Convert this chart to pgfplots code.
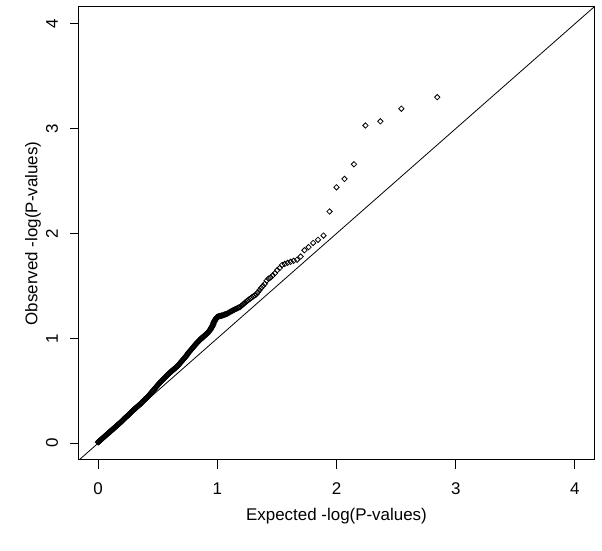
\documentclass[border=0pt]{standalone}
\usepackage{fontspec}
\setmainfont{Liberation Sans}
\usepackage{pgfplots}
\pgfplotsset{compat=1.18}
\newcommand{\rfont}{\fontsize{17}{17}\selectfont}
\begin{document}
\begin{tikzpicture}[x=1bp,y=1bp]
\path (-79,-91) rectangle (523,460);
\begin{axis}[
  at={(0,0)}, anchor=south west,
  scale only axis, width=515bp, height=453bp,
  xmin=-0.16, xmax=4.16, ymin=-0.16, ymax=4.16,
  xtick={0,1,2,3,4}, ytick={0,1,2,3,4},
  tick align=outside, major tick length=9bp, tick pos=left,
  axis line style={line width=1bp, black},
  every tick/.style={black, line width=1bp},
  /pgf/number format/assume math mode=true,
  xticklabel style={font=\rfont, anchor=center, yshift=-20bp},
  yticklabel style={font=\rfont, rotate=90, anchor=center, yshift=18bp},
  xlabel={Expected -log(P-values)},
  ylabel={Observed -log(P-values)},
  xlabel style={font=\rfont, anchor=center, at={(axis description cs:0.5,-0.1236)}},
  ylabel style={font=\rfont, anchor=center, rotate=0, at={(axis description cs:-0.0893,0.5)}},
  clip=true,
]
\addplot[black, line width=0.8bp] coordinates {(-0.16,-0.16) (4.16,4.16)};
\addplot[only marks, mark=square, mark size=1.9bp, mark options={rotate=45, line width=0.8bp, black, fill=white}] coordinates {
(2.845,3.30) (2.544,3.19) (2.368,3.07) (2.243,3.03) (2.146,2.66) (2.067,2.52) (2.000,2.44) (1.942,2.21)
(1.891,1.98) (1.845,1.94) (1.804,1.91) (1.766,1.87) (1.731,1.84) (1.699,1.78) (1.669,1.75) (1.641,1.74)
(1.615,1.73) (1.590,1.72) (1.566,1.71) (1.544,1.70) (1.523,1.67) (1.503,1.65) (1.483,1.62) (1.465,1.60)
(1.447,1.58) (1.430,1.57) (1.414,1.55) (1.398,1.52) (1.383,1.50) (1.368,1.48) (1.354,1.46) (1.340,1.44)
(1.327,1.42) (1.314,1.41) (1.301,1.40) (1.289,1.39) (1.277,1.38) (1.265,1.37) (1.254,1.36) (1.243,1.35)
(1.232,1.34) (1.222,1.33) (1.212,1.32) (1.202,1.31) (1.192,1.30) (1.182,1.295) (1.173,1.29) (1.164,1.285)
(1.155,1.28) (1.146,1.275) (1.138,1.27) (1.129,1.265) (1.121,1.26) (1.113,1.255) (1.105,1.25) (1.097,1.245)
(1.089,1.24) (1.082,1.235) (1.074,1.232) (1.067,1.229) (1.060,1.226) (1.053,1.223) (1.046,1.22) (1.039,1.218)
(1.032,1.216) (1.026,1.214) (1.019,1.212) (1.013,1.21) (1.006,1.207) (1.000,1.205)
};
\addplot[only marks, mark=square, mark size=1.9bp, mark options={rotate=45, line width=1.1bp, black, fill=white}] coordinates {
(0.995,1.198) (0.99,1.19) (0.985,1.18) (0.98,1.17) (0.975,1.16) (0.97,1.15) (0.965,1.135) (0.96,1.12)
(0.955,1.11) (0.95,1.10) (0.945,1.09) (0.94,1.08) (0.9325,1.07) (0.925,1.06) (0.9175,1.05) (0.91,1.04)
(0.9025,1.035) (0.895,1.03) (0.8875,1.02) (0.88,1.01) (0.8725,1.005) (0.865,1.00) (0.8575,0.99) (0.85,0.98)
(0.8425,0.972) (0.835,0.965) (0.8275,0.955) (0.82,0.945) (0.8125,0.935) (0.805,0.925) (0.7975,0.915) (0.79,0.905)
(0.7825,0.895) (0.775,0.885) (0.7675,0.875) (0.76,0.865) (0.7525,0.852) (0.745,0.84) (0.7375,0.83) (0.73,0.82)
(0.7225,0.81) (0.715,0.80) (0.7075,0.79) (0.70,0.78) (0.6925,0.77) (0.685,0.76) (0.6775,0.75) (0.67,0.74)
(0.6625,0.732) (0.655,0.725) (0.6475,0.717) (0.64,0.71) (0.6325,0.702) (0.625,0.695) (0.6175,0.687) (0.61,0.68)
(0.6025,0.672) (0.595,0.665) (0.5875,0.657) (0.58,0.65) (0.5725,0.64) (0.565,0.63) (0.5575,0.622) (0.55,0.615)
(0.5425,0.605) (0.535,0.595) (0.5275,0.587) (0.52,0.58) (0.5125,0.57) (0.505,0.56) (0.4975,0.55) (0.49,0.54)
(0.4825,0.53) (0.475,0.52) (0.4675,0.51) (0.46,0.50) (0.4525,0.49) (0.445,0.48) (0.4375,0.47) (0.43,0.46)
(0.4225,0.45) (0.415,0.44) (0.4075,0.432) (0.40,0.425) (0.3925,0.417) (0.385,0.41) (0.3775,0.40) (0.37,0.39)
(0.3625,0.382) (0.355,0.375) (0.3475,0.367) (0.34,0.36) (0.3325,0.352) (0.325,0.345) (0.3175,0.337) (0.31,0.33)
(0.3025,0.322) (0.295,0.315) (0.2875,0.307) (0.28,0.30) (0.2725,0.29) (0.265,0.28) (0.2575,0.272) (0.25,0.265)
(0.2425,0.257) (0.235,0.25) (0.2275,0.242) (0.22,0.235) (0.2125,0.225) (0.205,0.215) (0.1975,0.207) (0.19,0.20)
(0.1825,0.192) (0.175,0.185) (0.1675,0.177) (0.16,0.17) (0.1525,0.162) (0.145,0.155) (0.1375,0.147) (0.13,0.14)
(0.1225,0.132) (0.115,0.125) (0.1075,0.117) (0.10,0.11) (0.0925,0.102) (0.085,0.095) (0.0775,0.087) (0.07,0.08)
(0.0625,0.072) (0.055,0.065) (0.0475,0.057) (0.04,0.05) (0.0325,0.042) (0.025,0.035) (0.0175,0.027) (0.01,0.02)
(0.005,0.015) (0.001,0.01)
};
\end{axis}
\end{tikzpicture}
\end{document}
